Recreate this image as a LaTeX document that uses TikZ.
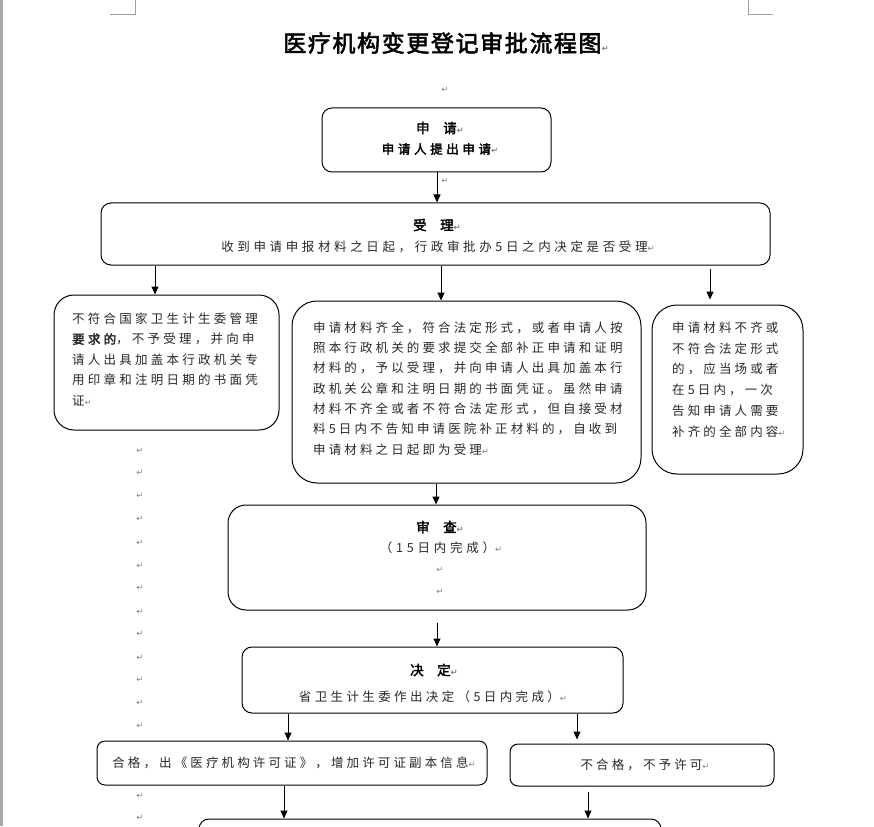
\documentclass[tikz,border=0pt]{standalone}
\usepackage{fontspec}
\usetikzlibrary{arrows.meta}
\newfontfamily\cjk[AutoFakeBold=2.5]{Noto Sans CJK SC}
\newfontfamily\pmfont{DejaVu Sans}
\definecolor{pmgray}{RGB}{128,128,128}
\definecolor{edgegray}{RGB}{165,170,175}
\definecolor{markgray}{RGB}{160,160,160}
\definecolor{bodytext}{RGB}{40,40,40}
\newcommand\pmk{{\pmfont\fontsize{8.5}{8.5}\selectfont\textcolor{pmgray}{↵}}}
\newcommand\lsp[1]{\addfontfeature{LetterSpace=#1}}
\tikzset{
  box/.style={draw, line width=1pt, rounded corners=#1, inner sep=0pt},
  arr/.style={-{Triangle[length=8pt,width=7pt]}, line width=1pt},
  body/.style={inner sep=0pt, align=left, anchor=north west, text=bodytext},
  line/.style={inner sep=0pt, text=bodytext},
  head/.style={font=\cjk\bfseries\fontsize{13.5}{14}\selectfont, inner sep=0pt},
  pmnode/.style={inner sep=0pt, font=\pmfont\fontsize{8.5}{8.5}\selectfont, text=pmgray},
}
\begin{document}
\begin{tikzpicture}[x=1pt,y=-1pt]
\useasboundingbox (0,0) rectangle (874,826);
\clip (0,0) rectangle (874,826);
% page decorations
\fill[edgegray] (0,0) rectangle (3,826);
\draw[markgray, line width=1pt] (135,0) -- (135,15) -- (110,15);
\draw[markgray, line width=1pt] (748,0) -- (748,15) -- (773,15);

% title
\node[font=\cjk\bfseries\fontsize{23}{23}\selectfont\lsp{7}, inner sep=0pt] (title) at (446,43) {医疗机构变更登记审批流程图\pmk};
\node[pmnode] (pa) at (445,90) {↵};

% boxes
\node[box=10pt, minimum width=229pt, minimum height=64pt] (sq) at (436.5,140) {};
\node[box=10pt, minimum width=669pt, minimum height=62pt] (sl) at (435.5,234) {};
\node[box=20pt, minimum width=225pt, minimum height=135pt] (lb) at (166.5,362.5) {};
\node[box=25pt, minimum width=349pt, minimum height=182pt] (mb) at (466.5,392) {};
\node[box=25pt, minimum width=151pt, minimum height=169pt] (rb) at (727.5,389.5) {};
\node[box=18pt, minimum width=418pt, minimum height=105pt] (sc) at (437,557.5) {};
\node[box=10pt, minimum width=381pt, minimum height=66pt] (jd) at (432.5,680) {};
\node[box=8pt, minimum width=390pt, minimum height=44pt] (hg) at (292,763) {};
\node[box=8pt, minimum width=264pt, minimum height=42pt] (bh) at (642,765) {};
\node[box=10pt, minimum width=462pt, minimum height=62pt] (ls) at (430,850) {};

% texts
\node[head] (sqh) at (440,128) {申　请\pmk};
\node[font=\cjk\bfseries\fontsize{12.5}{14}\selectfont\lsp{29}, inner sep=0pt] (sqt) at (440,149) {申请人提出申请\pmk};

\node[head] (slh) at (437,225) {受　理\pmk};
\node[line, font=\cjk\fontsize{12.5}{14}\selectfont\lsp{29}] (slt) at (438,247) {收到申请申报材料之日起，行政审批办5日之内决定是否受理\pmk};

\node[body, font=\cjk\fontsize{12.5}{20.5}\selectfont\lsp{26}] (lt) at (72,312.5)
 {不符合国家卫生计生委管理\\{\bfseries 要求的}，不予受理，并向申\\请人出具加盖本行政机关专\\用印章和注明日期的书面凭\\证\pmk};

\node[body, font=\cjk\fontsize{12.5}{20.3}\selectfont\lsp{25}] (mt) at (313,321.5)
 {申请材料齐全，符合法定形式，或者申请人按\\照本行政机关的要求提交全部补正申请和证明\\材料的，予以受理，并向申请人出具加盖本行\\政机关公章和注明日期的书面凭证。虽然申请\\材料不齐全或者不符合法定形式，但自接受材\\料5日内不告知申请医院补正材料的，自收到\\申请材料之日起即为受理\pmk};

\node[body, font=\cjk\fontsize{12.5}{20.8}\selectfont\lsp{25}] (rt) at (672,321.5)
 {申请材料不齐或\\不符合法定形式\\的，应当场或者\\在5日内，一次\\告知申请人需要\\补齐的全部内容\pmk};

\node[head] (sch) at (440,527) {审　查\pmk};
\node[line, font=\cjk\fontsize{12.5}{14}\selectfont\lsp{30}] (sct) at (441,548) {（15日内完成）\pmk};
\node[pmnode] (sc1) at (440,570) {↵};
\node[pmnode] (sc2) at (440,592) {↵};

\node[head] (jdh) at (434,670) {决　定\pmk};
\node[line, font=\cjk\fontsize{12.5}{14}\selectfont\lsp{27}] (jdt) at (433,697) {省卫生计生委作出决定（5日内完成）\pmk};

\node[line, font=\cjk\fontsize{12.5}{14}\selectfont\lsp{25}] (hgt) at (294,763) {合格，出《医疗机构许可证》，增加许可证副本信息\pmk};
\node[line, font=\cjk\fontsize{12.5}{14}\selectfont\lsp{25}] (bht) at (645,765) {不合格，不予许可\pmk};

% paragraph marks on the left
\foreach \y [count=\i] in {451,473,496,519,543,566,588,612,634,658,680,703,726,796,818}
  \node[pmnode] (pl\i) at (140,\y) {↵};
\node[pmnode] (pb) at (445,181) {↵};

% arrow columns
\coordinate (x437) at (437,0);
\coordinate (x155) at (155,0);
\coordinate (x441) at (441,0);
\coordinate (x710) at (710,0);
\coordinate (x436) at (436,0);
\coordinate (x288) at (288,0);
\coordinate (x577) at (577,0);
\coordinate (x284) at (284,0);
\coordinate (x588) at (588,0);

% connectors
\draw[arr] (x437 |- sq.south) -- (x437 |- sl.north);
\draw[arr] (x155 |- sl.south) -- (x155 |- lb.north);
\draw[arr] (x441 |- sl.south) -- (x441 |- mb.north);
\draw[arr, shorten <=3pt, shorten >=5pt] (x710 |- sl.south) -- (x710 |- rb.north);
\draw[arr] (x436 |- mb.south) -- (x436 |- sc.north);
\draw[arr, shorten <=12pt] (x437 |- sc.south) -- (x437 |- jd.north);
\draw[arr] (x288 |- jd.south) -- (x288 |- hg.north);
\draw[arr, shorten >=4pt] (x577 |- jd.south) -- (x577 |- bh.north);
\draw[arr] (x284 |- hg.south) -- (x284 |- ls.north);
\draw[arr, shorten <=5pt] (x588 |- bh.south) -- (x588 |- ls.north);
\end{tikzpicture}
\end{document}
